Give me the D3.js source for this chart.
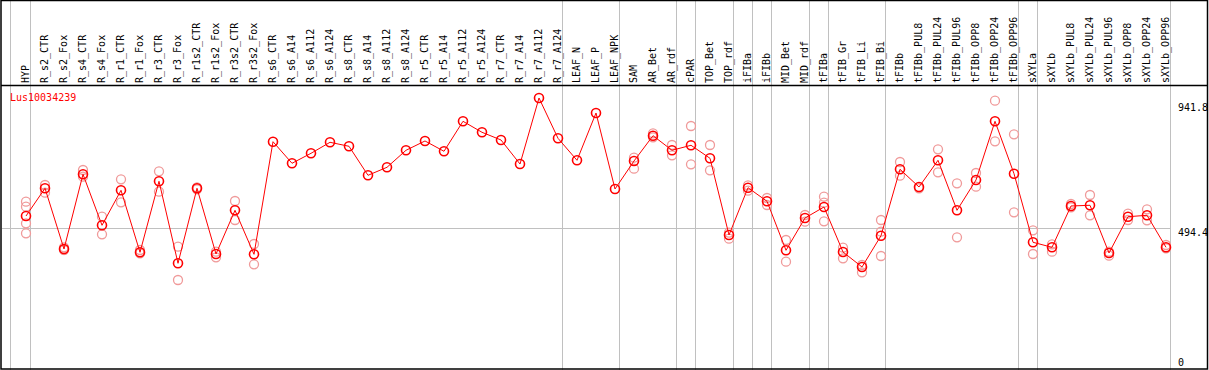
<!DOCTYPE html>
<html>
<head>
<meta charset="utf-8">
<script src="https://cdn.jsdelivr.net/npm/d3@7"></script>
<style>
  body { margin: 0; background: #fff; }
  text { font-family: "DejaVu Sans Mono", monospace; font-size: 10px; }
</style>
</head>
<body>
<script>
var gene = 'Lus10034239';

var categories = ['HYP', 'R_s2_CTR', 'R_s2_Fox', 'R_s4_CTR', 'R_s4_Fox', 'R_r1_CTR', 'R_r1_Fox',
  'R_r3_CTR', 'R_r3_Fox', 'R_r1s2_CTR', 'R_r1s2_Fox', 'R_r3s2_CTR', 'R_r3s2_Fox',
  'R_s6_CTR', 'R_s6_A14', 'R_s6_A112', 'R_s6_A124', 'R_s8_CTR', 'R_s8_A14', 'R_s8_A112', 'R_s8_A124',
  'R_r5_CTR', 'R_r5_A14', 'R_r5_A112', 'R_r5_A124', 'R_r7_CTR', 'R_r7_A14', 'R_r7_A112', 'R_r7_A124',
  'LEAF_N', 'LEAF_P', 'LEAF_NPK', 'SAM', 'AR_Bet', 'AR_rdf', 'cPAR', 'TOP_Bet', 'TOP_rdf',
  'iFIBa', 'iFIBb', 'MID_Bet', 'MID_rdf', 'tFIBa', 'tFIB_Gr', 'tFIB_Li', 'tFIB_Bi',
  'tFIBb', 'tFIBb_PUL8', 'tFIBb_PUL24', 'tFIBb_PUL96', 'tFIBb_OPP8', 'tFIBb_OPP24', 'tFIBb_OPP96',
  'sXYLa', 'sXYLb', 'sXYLb_PUL8', 'sXYLb_PUL24', 'sXYLb_PUL96', 'sXYLb_OPP8', 'sXYLb_OPP24', 'sXYLb_OPP96'];

var means = [538.4, 643.9, 412.9, 697.1, 503.1, 636.2, 400.3,
  670.5, 358.5, 643.9, 393.8, 560.1, 392.7,
  821.2, 739.0, 777.0, 818.9, 803.7, 693.3, 723.8, 788.5,
  823.9, 784.7, 898.8, 857.0, 827.7, 736.3, 987.5, 834.1,
  750.4, 930.4, 641.2, 747.7, 844.0, 788.5, 807.5, 758.0, 466.1,
  646.1, 594.4, 407.9, 530.8, 572.7, 401.5, 344.4, 463.5,
  716.2, 648.8, 750.4, 560.1, 675.4, 898.8, 699.4,
  438.4, 419.3, 576.5, 579.2, 397.7, 535.8, 541.1, 419.3];

// individual samples (faint circles); empty where only one sample
var replicates = [
  [592.9, 573.8, 510.7, 472.6], [656.4, 627.1], [419.3, 409.1], [713.5, 688.0], [535.8, 468.8],
  [678.1, 590.6], [409.1, 396.5], [708.5, 630.9], [421.6, 294.9], [647.7, 640.1], [402.6, 381.3],
  [595.5, 523.2], [431.9, 354.7],
  [], [], [], [], [], [], [], [], [], [], [], [], [], [], [], [],
  [], [], [],
  [760.3, 718.4], [853.2, 837.9], [808.6, 769.4], [880.9, 735.2], [808.6, 712.4], [474.9, 452.1],
  [655.3, 634.7], [607.0, 580.3], [447.1, 364.5], [542.3, 516.8], [611.9, 589.1, 518.3],
  [417.8, 377.5], [352.0, 324.2], [523.2, 478.7, 386.2],
  [743.9, 691.8], [643.9], [792.3, 704.7], [662.9, 457.4], [702.1, 649.9], [977.2, 822.7], [849.3, 552.5],
  [484.0, 393.8], [430.8, 402.6], [584.1, 571.6], [618.4, 541.1], [402.6, 387.4], [547.2, 523.2],
  [563.9, 522.1], [428.1, 415.5]];

// last category of each group (a grey rule follows it)
var groupEnds = ['HYP', 'R_r7_A124', 'LEAF_NPK', 'AR_rdf', 'cPAR', 'TOP_rdf', 'iFIBa', 'iFIBb',
  'MID_rdf', 'tFIBa', 'tFIB_Bi', 'tFIBb_OPP96', 'sXYLa', 'sXYLb_OPP96'];

var yMax = 941.8;
var yMid = 494.4;
var yTicks = [yMax, yMid, 0];

var width = 1209, height = 370;

var svg = d3.select('body').append('svg')
    .attr('width', width)
    .attr('height', height);

var x = d3.scalePoint()
    .domain(categories)
    .range([26, 1166]);

var y = d3.scaleLinear()
    .domain([0, yMax])
    .range([357.5, 110]);

// grey separators
svg.append('line')
    .attr('x1', 10.5).attr('x2', 10.5)
    .attr('y1', 0).attr('y2', height)
    .attr('stroke', '#c0c0c0');

svg.selectAll('.sep')
    .data(groupEnds)
    .enter().append('line')
    .attr('class', 'sep')
    .attr('x1', function (d) { return Math.round(x(d)) + 4.5; })
    .attr('x2', function (d) { return Math.round(x(d)) + 4.5; })
    .attr('y1', 0)
    .attr('y2', height)
    .attr('stroke', '#c0c0c0');

// mid reference line
svg.append('line')
    .attr('x1', 2).attr('x2', 1170)
    .attr('y1', Math.round(y(yMid)) + 0.5)
    .attr('y2', Math.round(y(yMid)) + 0.5)
    .attr('stroke', '#c0c0c0');

// frame
svg.append('rect')
    .attr('x', 1).attr('y', 0.5)
    .attr('width', width - 2.5).attr('height', height - 1.5)
    .attr('fill', 'none')
    .attr('stroke', '#000')
    .attr('stroke-width', 1.5);

svg.append('line')
    .attr('x1', 1).attr('x2', width - 2)
    .attr('y1', 85.5).attr('y2', 85.5)
    .attr('stroke', '#000')
    .attr('stroke-width', 1.5);

// column labels
svg.selectAll('.lab')
    .data(categories)
    .enter().append('text')
    .attr('class', 'lab')
    .attr('transform', function (d) { return 'translate(' + (x(d) + 3) + ',83) rotate(-90)'; })
    .attr('fill', '#000')
    .text(function (d) { return d; });

// value labels on the right
svg.selectAll('.ytick')
    .data(yTicks)
    .enter().append('text')
    .attr('class', 'ytick')
    .attr('x', 1178)
    .attr('y', function (d) { return d === yMax ? y(d) + 1 : y(d) + 8; })
    .attr('fill', '#000')
    .text(function (d) { return d; });

// gene name
svg.append('text')
    .attr('x', 10)
    .attr('y', 101)
    .attr('fill', '#ff0000')
    .text(gene);

// replicate circles
var reps = [];
replicates.forEach(function (r, i) {
  r.forEach(function (v) { reps.push({ c: categories[i], v: v }); });
});

svg.selectAll('.rep')
    .data(reps)
    .enter().append('circle')
    .attr('class', 'rep')
    .attr('cx', function (d) { return x(d.c); })
    .attr('cy', function (d) { return y(d.v); })
    .attr('r', 4.5)
    .attr('fill', 'none')
    .attr('stroke', '#f09a9a')
    .attr('stroke-width', 1.3);

// mean line
var line = d3.line()
    .x(function (d, i) { return x(categories[i]); })
    .y(function (d) { return y(d); });

svg.append('path')
    .datum(means)
    .attr('d', line)
    .attr('fill', 'none')
    .attr('stroke', '#ff0000')
    .attr('stroke-width', 1);

svg.selectAll('.mean')
    .data(means)
    .enter().append('circle')
    .attr('class', 'mean')
    .attr('cx', function (d, i) { return x(categories[i]); })
    .attr('cy', function (d) { return y(d); })
    .attr('r', 4.5)
    .attr('fill', 'none')
    .attr('stroke', '#ff0000')
    .attr('stroke-width', 1.6);
</script>
</body>
</html>
